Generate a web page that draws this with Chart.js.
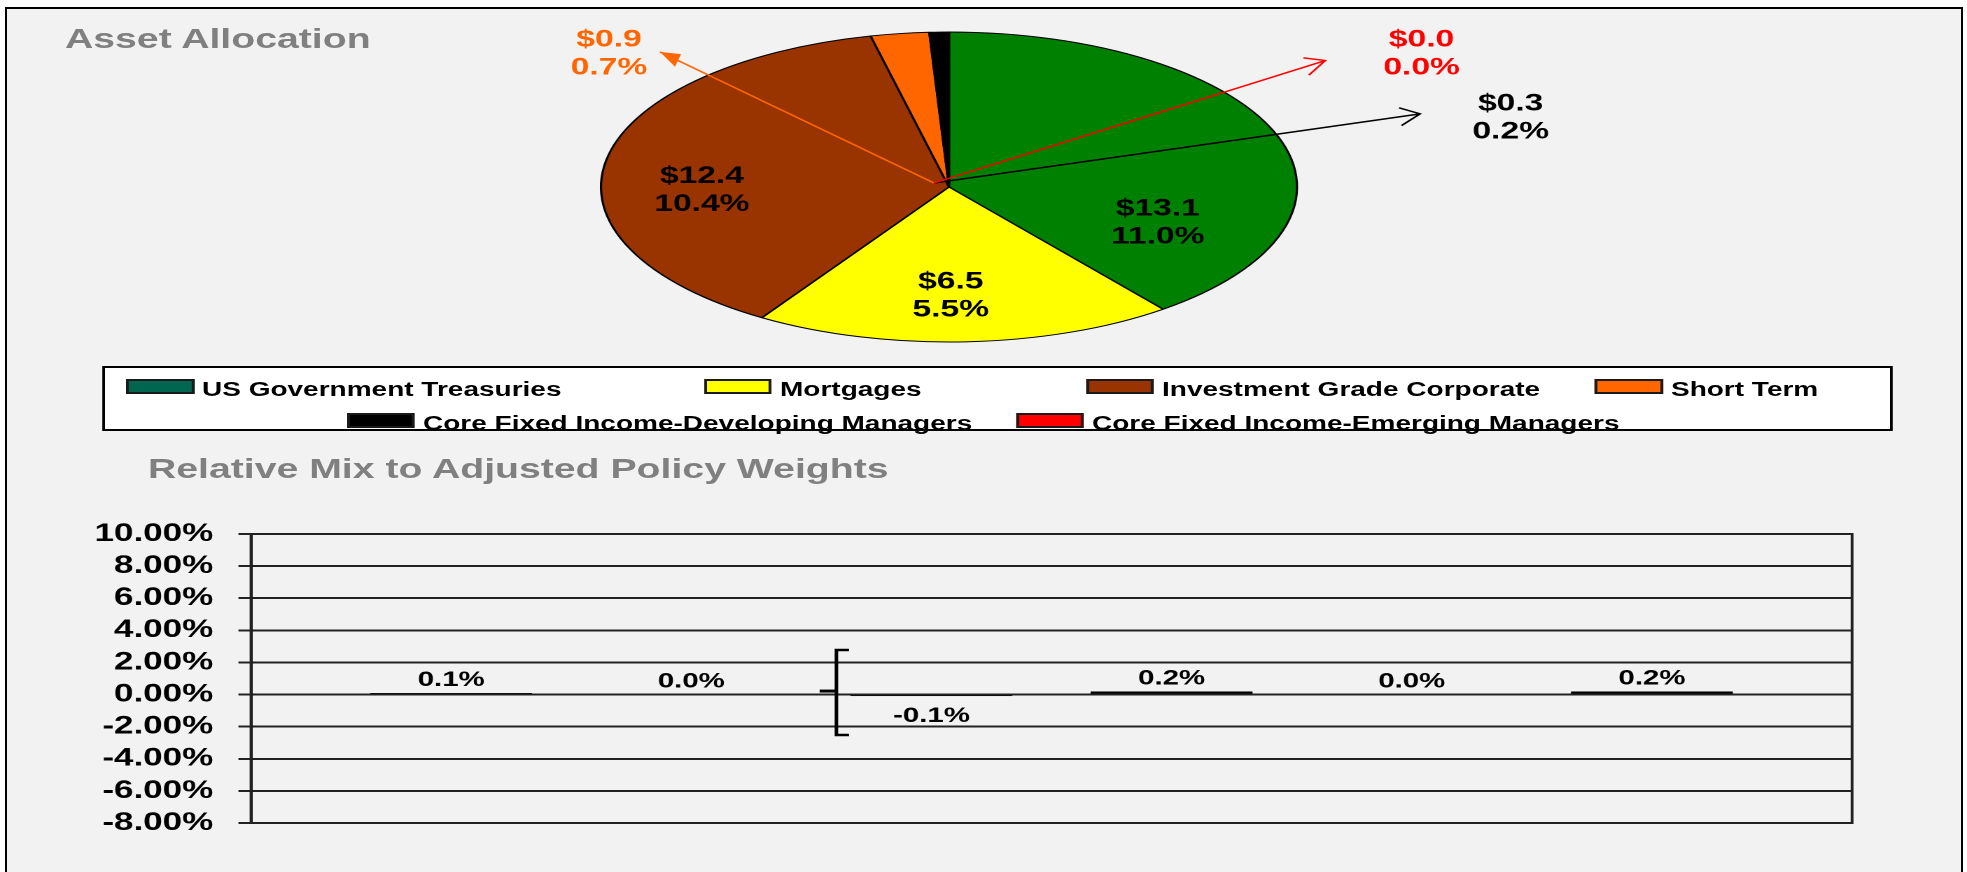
<!DOCTYPE html>
<html>
<head>
<meta charset="utf-8">
<title>Asset Allocation</title>
<script src="https://cdn.jsdelivr.net/npm/chart.js@4.4.1/dist/chart.umd.min.js"></script>
<style>
  html, body { margin: 0; padding: 0; background: #fff; width: 1967px; height: 872px; overflow: hidden; }
  body { position: relative; font-family: "Liberation Sans", Arial, sans-serif; }
  .frame { position: absolute; left: 5px; top: 7px; width: 1958px; height: 900px; border: 2px solid #000; background: #f2f2f2; box-sizing: border-box; }
  /* the picture is a horizontally stretched sheet, so everything is laid out narrow and stretched */
  .stretch { position: absolute; left: 0; top: 0; width: 1405px; height: 872px; transform: scaleX(1.4); transform-origin: 0 0; }
  .title { position: absolute; font-weight: bold; font-size: 28px; line-height: 28px; color: #808080; white-space: nowrap; }
  #pie { position: absolute; left: 0; top: 0; }
  #bars { position: absolute; left: 0; top: 440px; }
  .legend-box { position: absolute; top: 366px; height: 65px; border: 2px solid #000; background: #fff; box-sizing: border-box; }
  .lg-swatch { position: absolute; height: 15px; border: 2px solid #1a1a1a; box-sizing: border-box; }
  .lg-text { position: absolute; font-weight: bold; font-size: 20px; line-height: 20px; color: #000; white-space: nowrap; }
</style>
</head>
<body>
<div class="frame"></div>
<div class="stretch" id="sheet">
  <div class="title" style="left:46.4px; top:25px;">Asset Allocation</div>
  <canvas id="pie" width="1405" height="360"></canvas>
  <div class="legend-box" id="legendBox"></div>
  <div class="title" style="left:105.7px; top:455px;">Relative Mix to Adjusted Policy Weights</div>
  <canvas id="bars" width="1405" height="432"></canvas>
</div>
<script>
// Asset allocation ($ billions and % of total fund)
const assetNames = ['US Government Treasuries', 'Mortgages', 'Investment Grade Corporate', 'Short Term',
    'Core Fixed Income-Developing Managers', 'Core Fixed Income-Emerging Managers'];
const assetDollars = [13.1, 6.5, 12.4, 0.9, 0.3, 0.0];
const assetPercents = [11.0, 5.5, 10.4, 0.7, 0.2, 0.0];

// Relative mix to adjusted policy weights (%)
const mixSeries = ['US Government Treasuries', 'Mortgages', 'Investment Grade Corporate', 'Short Term',
    'Core Fixed Income-Emerging Managers', 'Core Fixed Income-Developing Managers'];
const mixValues = [0.1, 0.0, -0.1, 0.2, 0.0, 0.2];
const mixTicks = [-8, -6, -4, -2, 0, 2, 4, 6, 8, 10];

// colours
const sliceColors = ['#008000', '#ffff00', '#993300', '#ff6600', '#000000', '#ff0000'];
const legendColors = ['#006650', '#ffff00', '#993300', '#ff6600', '#000000', '#ff0000'];
const labelColors = ['#000000', '#000000', '#000000', '#ff6600', '#000000', '#ff0000'];

// layout (canvas px, before the 1.4 horizontal stretch)
const SX = 1.4;
const PIE_X = 949 / SX, PIE_Y = 187, PIE_RX = 348 / SX, PIE_BOX = 155.5;
// label centres as multiples of (rx, ry) from the pie centre
const pieLabelSpots = [[0.600, 0.22], [0.005, 0.69], [-0.71, 0.01], [-0.977, -0.872], [1.614, -0.459], [1.358, -0.872]];
// arrow tips relative to the label centre, only for the thin slices
const leaderTips = [null, null, null, [36.4, 0], [-64.7, -2], [-68.8, 8.7]];
// legend swatch spots in screen px
const legendSpots = [[126, 379], [704, 379], [1086, 379], [1595, 379], [347, 412.5], [1016, 412.5]];

Chart.defaults.font.family = '"Liberation Sans", Arial, sans-serif';

function drawArrow(ctx, x0, y0, x1, y1, color, filled) {
    // head is worked out in screen space since the canvas gets stretched
    const dx = (x1 - x0) * SX, dy = y1 - y0;
    const len = Math.hypot(dx, dy);
    const ux = dx / len, uy = dy / len;
    const hl = 20, hw = filled ? 7 : 9;
    const bx = -ux * hl, by = -uy * hl;
    const px = -uy * hw, py = ux * hw;
    ctx.strokeStyle = color;
    ctx.fillStyle = color;
    ctx.lineWidth = 1.5;
    ctx.beginPath();
    ctx.moveTo(x0, y0);
    ctx.lineTo(x1, y1);
    ctx.stroke();
    ctx.beginPath();
    ctx.moveTo(x1 + (bx + px) / SX, y1 + by + py);
    ctx.lineTo(x1, y1);
    ctx.lineTo(x1 + (bx - px) / SX, y1 + by - py);
    if (filled) {
        ctx.closePath();
        ctx.fill();
    } else {
        ctx.stroke();
    }
}

function drawPieLabels(chart) {
    const ctx = chart.ctx;
    const arc = chart.getDatasetMeta(0).data[0];
    const cx = arc.x, cy = arc.y, ry = arc.outerRadius;
    ctx.save();
    ctx.font = 'bold 24px "Liberation Sans", Arial, sans-serif';
    ctx.textAlign = 'center';
    ctx.textBaseline = 'alphabetic';
    assetDollars.forEach((v, i) => {
        const lx = cx + pieLabelSpots[i][0] * PIE_RX;
        const ly = cy + pieLabelSpots[i][1] * ry;
        if (leaderTips[i]) {
            drawArrow(ctx, cx - 10.7, cy - 4, lx + leaderTips[i][0], ly + leaderTips[i][1], labelColors[i], i === 3);
        }
        ctx.fillStyle = labelColors[i];
        ctx.fillText('$' + v.toFixed(1), lx, ly - 5.4);
        ctx.fillText(assetPercents[i].toFixed(1) + '%', lx, ly + 22.6);
    });
    ctx.restore();
}

// squash the round pie into the ellipse of the reference
const ellipsePlugin = {
    id: 'ellipse',
    beforeDatasetsDraw(chart) {
        const arc = chart.getDatasetMeta(0).data[0];
        const ctx = chart.ctx;
        ctx.save();
        ctx.translate(arc.x, arc.y);
        ctx.scale(PIE_RX / arc.outerRadius, 1);
        ctx.translate(-arc.x, -arc.y);
    },
    afterDatasetsDraw(chart) {
        chart.ctx.restore();
        drawPieLabels(chart);
    }
};

new Chart(document.getElementById('pie'), {
    type: 'pie',
    data: {
        labels: assetNames,
        datasets: [{
            data: assetDollars,
            backgroundColor: sliceColors,
            borderColor: '#000',
            borderWidth: 1,
            clip: false
        }]
    },
    options: {
        responsive: false,
        animation: false,
        devicePixelRatio: 2,
        layout: {
            padding: {
                top: PIE_Y - PIE_BOX,
                bottom: 360 - PIE_Y - PIE_BOX,
                left: PIE_X - PIE_BOX,
                right: 1405 - PIE_X - PIE_BOX
            }
        },
        plugins: {
            legend: { display: false },
            tooltip: { enabled: false }
        }
    },
    plugins: [ellipsePlugin]
});

// legend, in a framed box under the pie
const sheet = document.getElementById('sheet');
const box = document.getElementById('legendBox');
box.style.left = (102 / SX) + 'px';
box.style.width = ((1893 - 102) / SX) + 'px';
assetNames.forEach((name, i) => {
    const [sx, sy] = legendSpots[i];
    const sw = document.createElement('div');
    sw.className = 'lg-swatch';
    sw.style.left = (sx / SX) + 'px';
    sw.style.top = sy + 'px';
    sw.style.width = (68 / SX) + 'px';
    sw.style.background = legendColors[i];
    sheet.appendChild(sw);
    const tx = document.createElement('div');
    tx.className = 'lg-text';
    tx.style.left = ((sx + 76) / SX) + 'px';
    tx.style.top = sy + 'px';
    tx.textContent = name;
    sheet.appendChild(tx);
});

const plotFrame = {
    id: 'plotFrame',
    beforeDatasetsDraw(chart) {
        const { ctx, chartArea: a } = chart;
        ctx.save();
        ctx.strokeStyle = '#222';
        ctx.lineWidth = 2;
        ctx.strokeRect(a.left, a.top, a.right - a.left, a.bottom - a.top);
        ctx.restore();
    }
};

const barLabels = {
    id: 'barLabels',
    afterDatasetsDraw(chart) {
        const ctx = chart.ctx;
        ctx.save();
        ctx.font = 'bold 21px "Liberation Sans", Arial, sans-serif';
        ctx.textAlign = 'center';
        ctx.fillStyle = '#000';
        chart.data.datasets.forEach((ds, i) => {
            const el = chart.getDatasetMeta(i).data[0];
            const v = ds.data[0];
            ctx.fillText(v.toFixed(1) + '%', el.x, v < 0 ? el.y + 26 : el.y - 7);
        });
        // the bracket left of the third bar
        const el = chart.getDatasetMeta(2).data[0];
        const zero = chart.scales.y.getPixelForValue(0);
        const bx = el.x - el.width / 2 - 10;
        ctx.strokeStyle = '#000';
        ctx.lineWidth = 2.5;
        ctx.beginPath();
        ctx.moveTo(bx + 9, zero - 44.6);
        ctx.lineTo(bx, zero - 44.6);
        ctx.lineTo(bx, zero + 40.4);
        ctx.lineTo(bx + 9, zero + 40.4);
        ctx.stroke();
        ctx.fillRect(bx - 12, zero - 5, 12, 3);
        ctx.restore();
    }
};

new Chart(document.getElementById('bars'), {
    type: 'bar',
    data: {
        labels: [''],
        datasets: mixSeries.map((name, i) => ({
            label: name,
            data: [mixValues[i]],
            backgroundColor: legendColors[assetNames.indexOf(name)],
            borderColor: '#000',
            borderWidth: 1.5,
            borderSkipped: false,
            categoryPercentage: 0.9,
            barPercentage: 0.675
        }))
    },
    options: {
        responsive: false,
        animation: false,
        devicePixelRatio: 2,
        layout: { padding: { top: 94, bottom: 49, left: 0, right: 82.1 } },
        plugins: {
            legend: { display: false },
            tooltip: { enabled: false }
        },
        scales: {
            x: { display: false },
            y: {
                min: mixTicks[0],
                max: mixTicks[mixTicks.length - 1],
                afterBuildTicks(scale) {
                    scale.ticks = mixTicks.map(v => ({ value: v }));
                },
                afterFit(scale) {
                    scale.width = 179.3;
                },
                grid: { color: '#222', lineWidth: 2, tickLength: 9, tickColor: '#222', tickWidth: 2 },
                border: { display: true, color: '#000', width: 2 },
                ticks: {
                    autoSkip: false,
                    padding: 18,
                    color: '#000',
                    font: { size: 25, weight: 'bold' },
                    callback: v => v.toFixed(2) + '%'
                }
            }
        }
    },
    plugins: [plotFrame, barLabels]
});
</script>
</body>
</html>
